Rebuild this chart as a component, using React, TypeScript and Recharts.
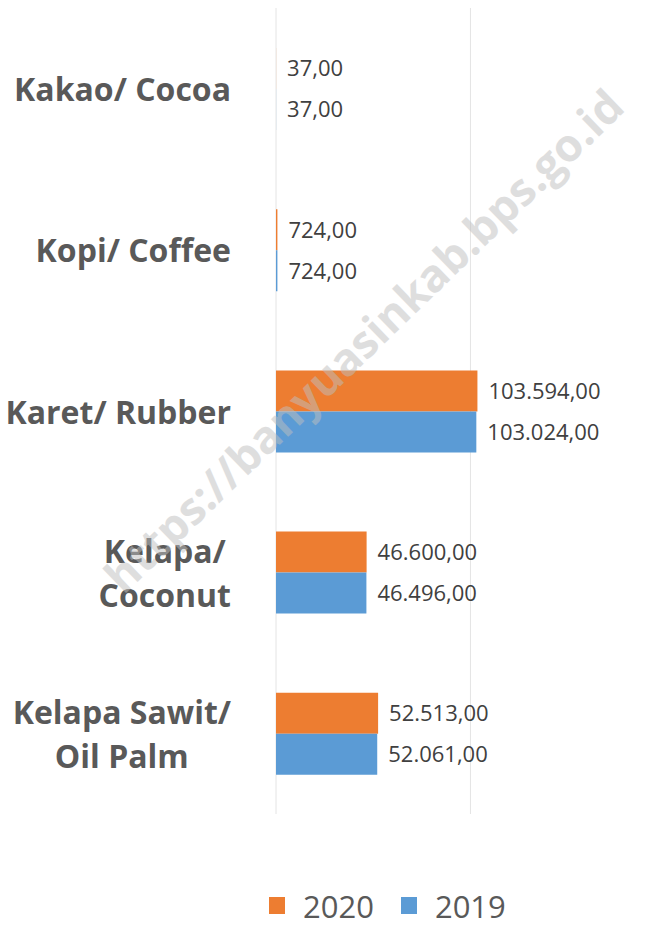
import { Bar, BarChart, CartesianGrid, LabelList, Legend, XAxis, YAxis } from "recharts";

const categories = ["Kakao/ Cocoa", "Kopi/ Coffee", "Karet/ Rubber", "Kelapa/ Coconut", "Kelapa Sawit/ Oil Palm"];
// how each category label is broken into lines
const categoryLines = [["Kakao/ Cocoa"], ["Kopi/ Coffee"], ["Karet/ Rubber"], ["Kelapa/", "Coconut"], ["Kelapa Sawit/", "Oil Palm"]];
const values2020 = [37, 724, 103594, 46600, 52513];
const values2019 = [37, 724, 103024, 46496, 52061];
const seriesOrder = ["2020", "2019"];
const xDomain = [0, 198000];
const xTicks = [0, 100000];
const watermark = "https://banyuasinkab.bps.go.id";

const data = categories.map((name, i) => ({
  name,
  y2020: values2020[i],
  y2019: values2019[i],
}));

const TEXT = "#595959";
const LABEL_FONT = "bold 32px 'Open Sans'";

// 103594 -> "103.594,00"
function fmt(v: number) {
  const [int, dec] = v.toFixed(2).split(".");
  return int.replace(/\B(?=(\d{3})+(?!\d))/g, ".") + "," + dec;
}

let ctx: CanvasRenderingContext2D | null = null;
function textWidth(s: string) {
  if (!ctx) ctx = document.createElement("canvas").getContext("2d");
  if (!ctx) return s.length * 17;
  ctx.font = LABEL_FONT;
  return ctx.measureText(s).width;
}

function CategoryTick(props: any) {
  const { x, y, index } = props;
  const lines: string[] = categoryLines[index] ?? [String(props.payload.value)];
  const right = x - 37;
  const blockW = Math.max(...lines.map(textWidth));
  const cx = right - blockW / 2;
  const lineH = 44;
  const y0 = y - ((lines.length - 1) * lineH) / 2;
  return (
    <g>
      {lines.map((l, i) => (
        <text
          key={i}
          x={cx}
          y={y0 + i * lineH}
          textAnchor="middle"
          dominantBaseline="central"
          fill={TEXT}
          style={{ font: LABEL_FONT }}
        >
          {l}
        </text>
      ))}
    </g>
  );
}

function LegendContent(props: any) {
  const items = [...(props.payload ?? [])].sort(
    (a: any, b: any) => seriesOrder.indexOf(String(a.value)) - seriesOrder.indexOf(String(b.value))
  );
  return (
    <div style={{ height: 111, boxSizing: "border-box", paddingTop: 72, paddingLeft: 269, display: "flex", alignItems: "center" }}>
      {items.map((it: any, i: number) => (
        <div key={i} style={{ display: "flex", alignItems: "center", marginRight: 27 }}>
          <span style={{ width: 16, height: 17, background: it.color, display: "inline-block", marginRight: 18 }} />
          <span style={{ fontFamily: "'Open Sans'", fontSize: 31, color: TEXT, lineHeight: "34px" }}>{it.value}</span>
        </div>
      ))}
    </div>
  );
}

// grid lines only at the value ticks
function gridX({ xAxis, offset }: any) {
  if (xAxis && typeof xAxis.scale === "function") return xTicks.map((t) => xAxis.scale(t));
  return xTicks.map((t) => offset.left + ((t - xDomain[0]) / (xDomain[1] - xDomain[0])) * offset.width);
}

export default function App() {
  return (
    <div style={{ position: "absolute", left: 0, top: 0, width: 661, height: 925, background: "#fff", overflow: "hidden" }}>
      <BarChart
        width={661}
        height={925}
        data={data}
        layout="vertical"
        margin={{ top: 8, right: 0, bottom: 0, left: 0 }}
        barSize={41}
        barGap={0}
      >
        <CartesianGrid horizontal={false} stroke="#e4e4e4" verticalCoordinatesGenerator={gridX} />
        <XAxis
          type="number"
          domain={xDomain}
          ticks={xTicks}
          tick={() => <g />}
          axisLine={false}
          tickLine={false}
          height={0}
        />
        <YAxis
          type="category"
          dataKey="name"
          width={276}
          axisLine={false}
          tickLine={false}
          interval={0}
          tick={<CategoryTick />}
        />
        <Legend verticalAlign="bottom" content={<LegendContent />} />
        <Bar dataKey="y2020" name="2020" fill="#ED7D31" isAnimationActive={false}>
          <LabelList
            dataKey="y2020"
            position="right"
            offset={11}
            formatter={(v: any) => fmt(Number(v))}
            style={{ fontFamily: "'Open Sans'", fontSize: 22, fill: "#404040" }}
          />
        </Bar>
        <Bar dataKey="y2019" name="2019" fill="#5B9BD5" isAnimationActive={false}>
          <LabelList
            dataKey="y2019"
            position="right"
            offset={11}
            formatter={(v: any) => fmt(Number(v))}
            style={{ fontFamily: "'Open Sans'", fontSize: 22, fill: "#404040" }}
          />
        </Bar>
      </BarChart>
      <div
        style={{
          position: "absolute",
          left: 363,
          top: 340,
          transform: "translate(-50%, -50%) rotate(-44deg)",
          fontFamily: "'Open Sans'",
          fontWeight: 700,
          fontSize: 45,
          color: "#bfbfbf",
          opacity: 0.5,
          whiteSpace: "nowrap",
          pointerEvents: "none",
        }}
      >
        {watermark}
      </div>
    </div>
  );
}
